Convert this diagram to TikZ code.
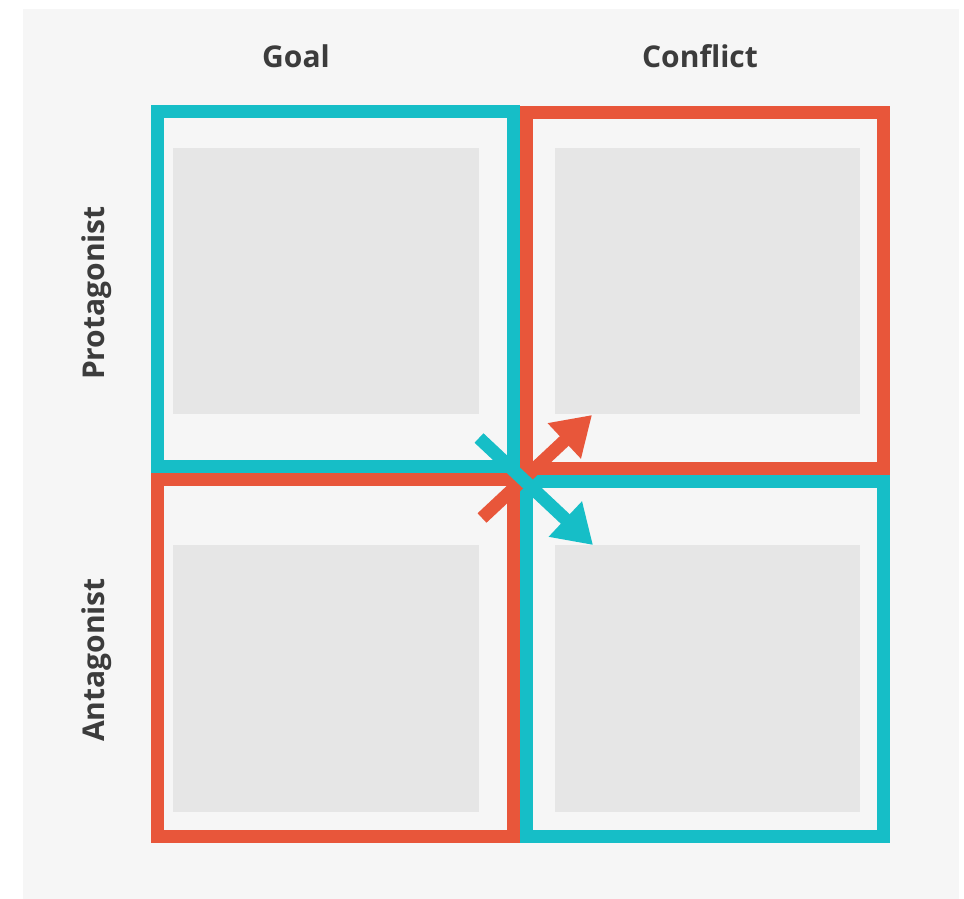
\documentclass[tikz,border=0pt]{standalone}
\usepackage{fontspec}
\setmainfont{Open Sans}
\usetikzlibrary{arrows.meta}
\definecolor{plotcyan}{RGB}{22,190,199}
\definecolor{plotred}{RGB}{232,86,58}
\definecolor{panelgray}{RGB}{230,230,230}
\definecolor{pagegray}{RGB}{246,246,246}
\definecolor{labelgray}{RGB}{60,60,60}
\tikzset{
    headtext/.style = {font=\fontsize{30}{36}\selectfont\bfseries, text=labelgray, anchor=base, inner sep=0pt},
    quadbox/.style = {line width=13pt},
    quadarrow/.style = {line width=13pt, -{Triangle[length=38pt,width=46pt]}}
}

\begin{document}
\begin{tikzpicture}[x=1pt,y=-1pt]
                \useasboundingbox (0,0) rectangle (964,899);
                \fill[white] (0,0) rectangle (964,899);
                \fill[pagegray] (23,9) rectangle (959,899);

                % panels
                \fill[panelgray] (173,148) rectangle (479,414);
                \fill[panelgray] (555,148) rectangle (860,414);
                \fill[panelgray] (173,545) rectangle (479,812);
                \fill[panelgray] (555,545) rectangle (860,812);

                % frames
                \draw[quadbox, plotcyan] (157.5,111.5) rectangle (513.5,466.5);
                \draw[quadbox, plotred] (526.5,112.5) rectangle (883.5,468.5);
                \draw[quadbox, plotred] (157.5,479.5) rectangle (513.5,836.5);
                \draw[quadbox, plotcyan] (526.5,481.5) rectangle (883.5,836.5);

                % arrows
                \coordinate (redtail) at (482,518);
                \coordinate (redtip) at (592,415);
                \coordinate (cyantail) at (479,438);
                \coordinate (cyantip) at (593,545);
                \draw[quadarrow, plotred] (redtail) -- (redtip);
                \draw[quadarrow, plotcyan] (cyantail) -- (cyantip);

                %% headers
                \node[headtext] (goal) at (296,67) {Goal};
                \node[headtext] (conflict) at (700,67) {Conflict};
                \node[headtext, rotate=90] (protagonist) at (104,293) {Protagonist};
                \node[headtext, rotate=90] (antagonist) at (104,660) {Antagonist};

            \end{tikzpicture}
\end{document}
